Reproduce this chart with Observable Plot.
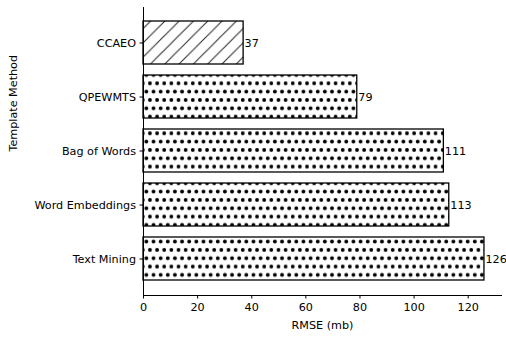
<!DOCTYPE html>
<html>
<head>
<meta charset="utf-8">
<script src="https://cdn.jsdelivr.net/npm/d3@7"></script>
<script src="https://cdn.jsdelivr.net/npm/@observablehq/plot@0.6"></script>
<style>
  body { margin: 0; background: #fff; }
  #chart svg { font-family: "DejaVu Sans", sans-serif; }
</style>
</head>
<body>
<div id="chart"></div>
<script>
const methods = ["CCAEO", "QPEWMTS", "Bag of Words", "Word Embeddings", "Text Mining"];
const rmse = [37, 79, 111, 113, 126];
const hatches = ["slash", "dots", "dots", "dots", "dots"];
const xTicks = [0, 20, 40, 60, 80, 100, 120];
const xTitle = "RMSE (mb)";
const yTitle = "Template Method";

const data = methods.map((m, i) => ({method: m, value: rmse[i], hatch: hatches[i]}));
const FS = 11.2;

const chart = Plot.plot({
  width: 506,
  height: 337,
  marginLeft: 143,
  marginRight: 5,
  marginTop: 7,
  marginBottom: 42,
  style: {fontFamily: "DejaVu Sans, sans-serif", fontSize: FS + "px", color: "#000", background: "#fff"},
  x: {domain: [0, 132.3], ticks: xTicks, label: null},
  y: {domain: methods, paddingInner: 0.2, paddingOuter: 0.24, label: null},
  marks: [
    Plot.barX(data, {y: "method", x: "value", fill: d => d.hatch === "slash" ? "url(#hatchSlash)" : "url(#hatchDots)", stroke: "#000", strokeWidth: 1.3}),
    Plot.text(data, {y: "method", x: "value", text: d => String(d.value), textAnchor: "start", dx: 1, fontSize: FS, fill: "#000"}),
    Plot.axisX({ticks: xTicks, tickSize: 3.5, tickPadding: 4, fontSize: FS, label: null, stroke: "#000"}),
    Plot.axisY({tickSize: 3.5, tickPadding: 4, fontSize: FS, label: null}),
    Plot.text([xTitle], {frameAnchor: "bottom", dy: 30, text: d => d, fontSize: FS, fill: "#000", lineAnchor: "middle"}),
    Plot.text([yTitle], {frameAnchor: "left", dx: -130, rotate: -90, text: d => d, fontSize: FS, fill: "#000", lineAnchor: "middle"}),
    Plot.ruleX([0], {stroke: "#000", strokeWidth: 1}),
    Plot.frame({anchor: "bottom", stroke: "#000", strokeWidth: 1})
  ]
});

const svg = d3.select(chart);
const defs = svg.insert("defs", ":first-child");
const slash = defs.append("pattern")
  .attr("id", "hatchSlash")
  .attr("patternUnits", "userSpaceOnUse")
  .attr("width", 14.3).attr("height", 14.3);
slash.append("path")
  .attr("d", "M-3.575,3.575 L3.575,-3.575 M0,14.3 L14.3,0 M10.725,17.875 L17.875,10.725")
  .attr("stroke", "#222").attr("stroke-width", 1);
const dots = defs.append("pattern")
  .attr("id", "hatchDots")
  .attr("patternUnits", "userSpaceOnUse")
  .attr("width", 7.14).attr("height", 16.66);
dots.append("rect").attr("width", 7.14).attr("height", 16.66).attr("fill", "#fff");
[[0, 0], [7.14, 0], [0, 16.66], [7.14, 16.66], [3.57, 8.33]].forEach(([cx, cy]) => {
  dots.append("circle").attr("cx", cx).attr("cy", cy).attr("r", 1.9).attr("fill", "#000");
});

document.getElementById("chart").appendChild(chart);
</script>
</body>
</html>
